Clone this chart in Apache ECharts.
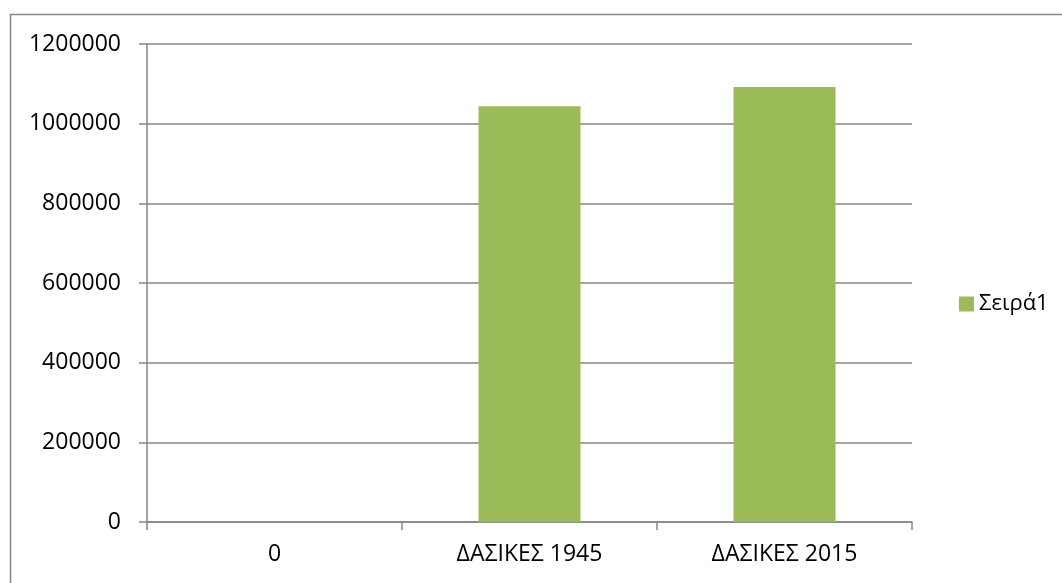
<!DOCTYPE html>
<html>
<head>
<meta charset="utf-8">
<script src="https://cdn.jsdelivr.net/npm/echarts@6/dist/echarts.min.js"></script>
<style>
  html, body { margin: 0; padding: 0; background: #fff; }
  #main { width: 1062px; height: 583px; }
</style>
</head>
<body>
<div id="main"></div>
<script>
var categories = ['0', 'ΔΑΣΙΚΕΣ 1945', 'ΔΑΣΙΚΕΣ 2015'];
var seriesName = 'Σειρά1';
var values = [0, 1044000, 1092000];

var chart = echarts.init(document.getElementById('main'));
var gray = '#868686';
var font = '"Open Sans", sans-serif';

var option = {
  animation: false,
  graphic: [{
    type: 'rect',
    shape: { x: 10.5, y: 14.5, width: 1100, height: 700 },
    style: { fill: 'none', stroke: gray, lineWidth: 1.5 },
    silent: true
  }],
  legend: {
    data: [seriesName],
    orient: 'vertical',
    left: 954,
    top: 288,
    itemWidth: 15,
    itemHeight: 15,
    itemGap: 6,
    icon: 'rect',
    textStyle: { color: '#000', fontSize: 22, fontFamily: font }
  },
  grid: { left: 147, right: 150, top: 44, bottom: 61 },
  xAxis: {
    type: 'category',
    data: categories,
    boundaryGap: true,
    axisLine: { lineStyle: { color: gray, width: 1.5 } },
    axisTick: { show: true, length: 8, lineStyle: { color: gray, width: 1.5 } },
    axisLabel: { color: '#000', fontSize: 23, fontFamily: font, margin: 21 }
  },
  yAxis: {
    type: 'value',
    min: 0,
    max: 1200000,
    interval: 200000,
    axisLine: { show: true, lineStyle: { color: gray, width: 1.5 } },
    axisTick: { show: true, length: 8, lineStyle: { color: gray, width: 1.5 } },
    axisLabel: {
      color: '#000', fontSize: 23, fontFamily: font, margin: 26,
      formatter: function (v) { return String(v); }
    },
    splitLine: { lineStyle: { color: gray, width: 1.5 } }
  },
  series: [{
    name: seriesName,
    type: 'bar',
    data: values,
    barWidth: '40%',
    itemStyle: { color: '#9BBB59' }
  }]
};

chart.setOption(option);
window.addEventListener('resize', function () {
  chart.resize();
});
</script>
</body>
</html>
